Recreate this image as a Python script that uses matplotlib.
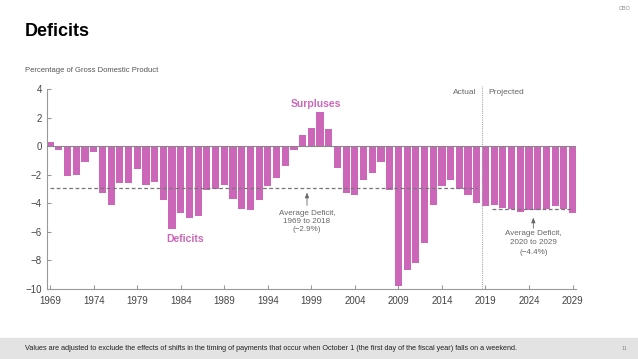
import numpy as np
import matplotlib.pyplot as plt

# 数据: 赤字占 GDP 的百分比 (1969-2029)
years = np.arange(1969, 2030)
deficits = [
    0.3, -0.3, -2.1, -2.0, -1.1, -0.4, -3.3, -4.1, -2.6, -2.6,
    -1.6, -2.7, -2.5, -3.8, -5.8, -4.7, -5.0, -4.9, -3.1, -3.0,
    -2.7, -3.7, -4.4, -4.5, -3.8, -2.8, -2.2, -1.4, -0.3, 0.8,
    1.3, 2.4, 1.2, -1.5, -3.3, -3.4, -2.4, -1.9, -1.1, -3.1,
    -9.8, -8.7, -8.2, -6.8, -4.1, -2.8, -2.4, -3.0, -3.4, -4.0,
    -4.2, -4.1, -4.3, -4.4, -4.6, -4.5, -4.5, -4.4, -4.2, -4.4,
    -4.7,
]
xticks = np.arange(1969, 2030, 5)
yticks = [4, 2, 0, -2, -4, -6, -8, -10]
avg_hist = -2.9
avg_proj = -4.4

pink = '#cc66b8'
grey = '#666666'

fig = plt.figure(figsize=(6.38, 3.59), dpi=100)
plt.rcParams['font.family'] = ['Liberation Sans', 'DejaVu Sans']

ax = fig.add_axes([46.7 / 638, 1 - 289 / 359, (576 - 46.7) / 638, 200 / 359])
ax.bar(years, deficits, width=0.82, color=pink, zorder=2)
ax.axhline(0, color='#888888', lw=0.8, zorder=3)

# 平均线
ax.hlines(avg_hist, 1969, 2018, colors='#777777', linestyles=(0, (3, 2)), lw=0.9, zorder=4)
ax.hlines(avg_proj, 2019.8, 2029, colors='#777777', linestyles=(0, (3, 2)), lw=0.9, zorder=4)

# Actual / Projected 分隔线
ax.axvline(2018.55, ymin=0, ymax=1.015, color='#aaaaaa', lw=0.8, ls=(0, (1, 1)), clip_on=False)
ax.text(2018.0, 3.75, 'Actual', ha='right', va='center', fontsize=6, color=grey)
ax.text(2019.3, 3.75, 'Projected', ha='left', va='center', fontsize=6, color=grey)

ax.text(1999.5, 2.95, 'Surpluses', ha='center', va='center', fontsize=7.5,
        color=pink, fontweight='bold')
ax.text(1984.5, -6.5, 'Deficits', ha='center', va='center', fontsize=7.5,
        color=pink, fontweight='bold')

arrow = dict(arrowstyle='-|>,head_length=0.3,head_width=0.12', color=grey, lw=0.6,
             shrinkA=0, shrinkB=0)
ax.annotate('', xy=(1998.5, -3.25), xytext=(1998.5, -4.15), arrowprops=arrow)
ax.text(1998.5, -4.45, 'Average Deficit,\n1969 to 2018\n(\u22122.9%)', ha='center',
        va='top', fontsize=5.8, color=grey, linespacing=1.25)
ax.annotate('', xy=(2024.5, -5.0), xytext=(2024.5, -5.75), arrowprops=arrow)
ax.text(2024.5, -5.85, 'Average Deficit,\n2020 to 2029\n(\u22124.4%)', ha='center',
        va='top', fontsize=5.8, color=grey, linespacing=1.5)

ax.set_xlim(1968.6, 2029.4)
ax.set_ylim(-10, 4)
ax.set_xticks(xticks)
ax.set_yticks(yticks)
ax.set_yticklabels([str(t).replace('-', '\u2212') for t in yticks])
ax.tick_params(axis='both', direction='in', length=3, color='#999999',
               labelsize=7, labelcolor='#444444')
ax.tick_params(axis='x', pad=5)
for s in ['top', 'right']:
    ax.spines[s].set_visible(False)
for s in ['left', 'bottom']:
    ax.spines[s].set_color('#999999')
    ax.spines[s].set_linewidth(0.8)

# 标题和注释
fig.text(25 / 638, 1 - 32 / 359, 'Deficits', fontsize=13, fontweight='bold',
         va='center', ha='left', color='black')
fig.text(25 / 638, 1 - 70 / 359, 'Percentage of Gross Domestic Product',
         fontsize=5.5, va='center', ha='left', color='#555555')
fig.text(625 / 638, 1 - 9 / 359, 'CBO', fontsize=4, va='center', ha='center', color='#888888')

fig.patches.append(plt.Rectangle((0, 0), 1, 21 / 359, transform=fig.transFigure,
                                 color='#e3e3e3', zorder=0))
fig.text(25 / 638, 1 - 349 / 359,
         'Values are adjusted to exclude the effects of shifts in the timing of payments '
         'that occur when October 1 (the first day of the fiscal year) falls on a weekend.',
         fontsize=5.2, va='center', ha='left', color='#222222')
fig.text(625 / 638, 1 - 349 / 359, '11', fontsize=4, va='center', ha='center', color='#888888')

fig.savefig('out.png', dpi=100)
